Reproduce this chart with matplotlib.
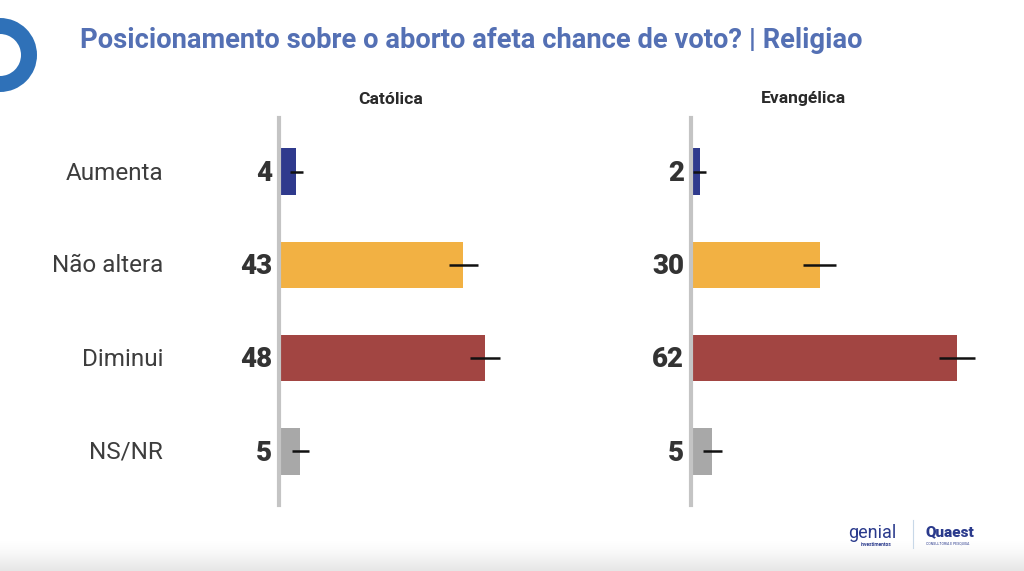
import matplotlib
matplotlib.use("Agg")
import matplotlib.pyplot as plt
import numpy as np
from matplotlib.patches import Wedge

plt.rcParams['font.family'] = ['Roboto', 'DejaVu Sans']

categories = ["Aumenta", "Não altera", "Diminui", "NS/NR"]
groups = ["Católica", "Evangélica"]
catolica = [4, 43, 48, 5]
evangelica = [2, 30, 62, 5]
catolica_err = [1.5, 3.4, 3.4, 2.0]
evangelica_err = [1.5, 3.9, 4.2, 2.2]
colors = ["#2f3a8d", "#f2b143", "#a24542", "#a8a8a8"]

W, H = 1024, 571
fig = plt.figure(figsize=(W / 100, H / 100), dpi=100)
fig.patch.set_facecolor("white")

# background overlay in pixel coordinates (ring + bottom fade)
bg = fig.add_axes([0, 0, 1, 1], zorder=0)
bg.set_xlim(0, W)
bg.set_ylim(H, 0)
bg.axis("off")
bg.add_patch(Wedge((0, 55), 37, 0, 360, width=16, facecolor="#2f71b8",
                   edgecolor="none"))
grad = np.linspace(0, 1, 50).reshape(-1, 1) ** 1.5
bg.imshow(1 - 0.1 * grad, cmap="gray", vmin=0, vmax=1, aspect="auto",
          extent=(0, W, H, 538), zorder=0)
bg.set_xlim(0, W)
bg.set_ylim(H, 0)

fig.text(80 / W, 1 - 40 / H,
         "Posicionamento sobre o aborto afeta chance de voto? | Religiao",
         fontsize=19.7, fontweight="bold", color="#5470b4", va="center", ha="left")

ax_top, ax_bot = 118, 505
ax_w = 300
lefts = [279, 691]
title_x = [391, 803]
series = [catolica, evangelica]
errs = [catolica_err, evangelica_err]

for i in range(2):
    ax = fig.add_axes([lefts[i] / W, 1 - ax_bot / H, ax_w / W, (ax_bot - ax_top) / H],
                      zorder=2)
    y = list(range(len(categories)))
    ax.barh(y, series[i], height=0.5, color=colors, zorder=2)
    ax.errorbar(series[i], y, xerr=errs[i], fmt="none", ecolor="#111111",
                elinewidth=1.8, capsize=0, zorder=3)
    ax.set_xlim(0, ax_w / 4.29)
    ax.set_ylim(3.575, -0.575)
    for s in ["top", "right", "bottom"]:
        ax.spines[s].set_visible(False)
    ax.spines["left"].set_color("#c4c4c4")
    ax.spines["left"].set_linewidth(3)
    ax.set_xticks([])
    ax.set_yticks([])
    ax.patch.set_alpha(0)
    for yy, v in zip(y, series[i]):
        ax.text(-1.6, yy + 0.02, str(v), ha="right", va="center", fontsize=20,
                fontweight="black", color="#333333")
    fig.text(title_x[i] / W, 1 - 99 / H, groups[i], ha="center", va="center",
             fontsize=12.6, fontweight="bold", color="#2a2a2a")

label_y = [173, 266, 359, 452]
for lab, yy in zip(categories, label_y):
    fig.text(163 / W, 1 - yy / H, lab, ha="right", va="center", fontsize=17.5,
             color="#3d3d3d")

# logos (text approximation)
fig.text(872 / W, 1 - 533 / H, "genial", ha="center", va="center", fontsize=13,
         color="#2a3a8c")
fig.text(876 / W, 1 - 545 / H, "investimentos", ha="center", va="center",
         fontsize=3.5, color="#2a3a8c", fontweight="bold")
fig.add_artist(plt.Line2D([913 / W, 913 / W], [1 - 520 / H, 1 - 548 / H],
                          color="#c8d8e8", lw=0.8, transform=fig.transFigure))
fig.text(950 / W, 1 - 532 / H, "Quaest", ha="center", va="center", fontsize=11,
         color="#2a3a8c", fontweight="black")
fig.text(948 / W, 1 - 544 / H, "CONSULTORIA E PESQUISA", ha="center",
         va="center", fontsize=2.5, color="#2a3a8c")

fig.savefig("out.png", dpi=100)
